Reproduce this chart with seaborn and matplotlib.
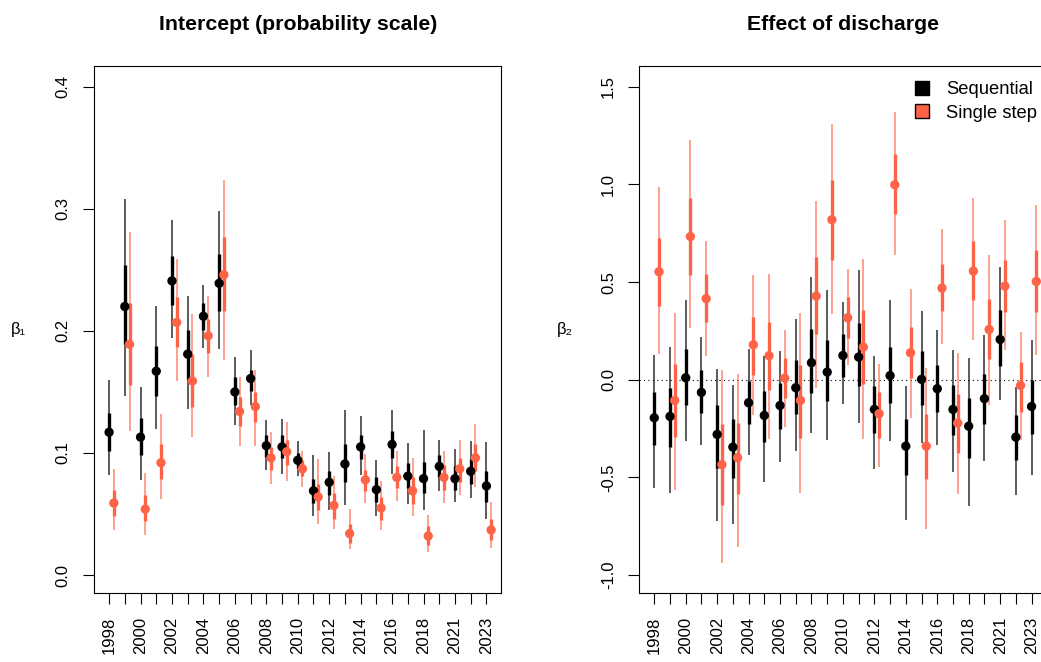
import numpy as np
import pandas as pd
import matplotlib
matplotlib.use("Agg")
import matplotlib.pyplot as plt
from matplotlib.patches import Patch
from matplotlib.ticker import FixedLocator, FixedFormatter
import seaborn as sns

# anos (2020 ausente)
years = [str(y) for y in range(1998, 2020)] + ["2021", "2022", "2023"]
methods = ["Sequential", "Single step"]

# intercepto (escala de probabilidade) - sequencial
int_seq_est = [0.117, 0.220, 0.113, 0.167, 0.241, 0.181, 0.212, 0.239, 0.150, 0.161, 0.106, 0.105, 0.094,
               0.069, 0.076, 0.091, 0.105, 0.070, 0.107, 0.081, 0.079, 0.089, 0.079, 0.085, 0.073]
int_seq_lo50 = [0.102, 0.189, 0.098, 0.147, 0.221, 0.161, 0.201, 0.216, 0.139, 0.151, 0.097, 0.096, 0.088,
                0.059, 0.066, 0.076, 0.095, 0.060, 0.096, 0.071, 0.067, 0.080, 0.070, 0.075, 0.060]
int_seq_hi50 = [0.133, 0.254, 0.129, 0.188, 0.261, 0.201, 0.223, 0.263, 0.162, 0.168, 0.115, 0.115, 0.100,
                0.079, 0.085, 0.107, 0.115, 0.080, 0.118, 0.092, 0.093, 0.098, 0.089, 0.095, 0.085]
int_seq_lo95 = [0.082, 0.147, 0.078, 0.120, 0.194, 0.136, 0.186, 0.185, 0.123, 0.139, 0.086, 0.083, 0.081,
                0.048, 0.053, 0.057, 0.082, 0.048, 0.083, 0.058, 0.053, 0.069, 0.060, 0.063, 0.046]
int_seq_hi95 = [0.160, 0.308, 0.154, 0.220, 0.291, 0.229, 0.238, 0.298, 0.179, 0.184, 0.127, 0.128, 0.110,
                0.098, 0.101, 0.135, 0.130, 0.094, 0.135, 0.108, 0.119, 0.111, 0.103, 0.110, 0.109]

# intercepto - passo único
int_ss_est = [0.059, 0.189, 0.054, 0.092, 0.207, 0.159, 0.196, 0.246, 0.134, 0.138, 0.096, 0.101, 0.087,
              0.064, 0.057, 0.034, 0.078, 0.055, 0.080, 0.069, 0.032, 0.080, 0.087, 0.096, 0.037]
int_ss_lo50 = [0.048, 0.156, 0.044, 0.079, 0.187, 0.138, 0.182, 0.216, 0.122, 0.125, 0.086, 0.090, 0.081,
               0.053, 0.046, 0.026, 0.069, 0.045, 0.071, 0.058, 0.025, 0.070, 0.076, 0.085, 0.029]
int_ss_hi50 = [0.070, 0.223, 0.066, 0.107, 0.228, 0.181, 0.210, 0.277, 0.146, 0.150, 0.105, 0.111, 0.094,
               0.075, 0.067, 0.042, 0.086, 0.064, 0.089, 0.080, 0.040, 0.090, 0.096, 0.107, 0.046]
int_ss_lo95 = [0.037, 0.118, 0.033, 0.062, 0.159, 0.113, 0.162, 0.176, 0.106, 0.106, 0.075, 0.077, 0.072,
               0.042, 0.038, 0.021, 0.059, 0.037, 0.061, 0.048, 0.019, 0.059, 0.066, 0.072, 0.022]
int_ss_hi95 = [0.087, 0.281, 0.084, 0.132, 0.259, 0.214, 0.229, 0.324, 0.162, 0.168, 0.117, 0.125, 0.102,
               0.095, 0.081, 0.054, 0.099, 0.077, 0.102, 0.096, 0.049, 0.102, 0.111, 0.124, 0.060]

# efeito da vazão - sequencial
dis_seq_est = [-0.195, -0.188, 0.010, -0.065, -0.280, -0.345, -0.118, -0.183, -0.132, -0.041, 0.087, 0.039, 0.124,
               0.116, -0.152, 0.021, -0.340, 0.002, -0.046, -0.152, -0.238, -0.097, 0.206, -0.294, -0.137]
dis_seq_lo50 = [-0.336, -0.345, -0.128, -0.171, -0.452, -0.502, -0.229, -0.319, -0.251, -0.174, -0.069, -0.111, 0.013,
                -0.033, -0.273, -0.120, -0.490, -0.128, -0.166, -0.282, -0.401, -0.225, 0.068, -0.413, -0.276]
dis_seq_hi50 = [-0.065, -0.043, 0.159, 0.048, -0.131, -0.203, -0.007, -0.060, -0.017, 0.099, 0.258, 0.201, 0.235,
                0.290, -0.034, 0.167, -0.200, 0.145, 0.073, -0.026, -0.094, 0.031, 0.355, -0.183, -0.004]
dis_seq_lo95 = [-0.553, -0.580, -0.314, -0.336, -0.725, -0.741, -0.387, -0.524, -0.422, -0.367, -0.271, -0.311, -0.126,
                -0.220, -0.456, -0.314, -0.720, -0.324, -0.336, -0.473, -0.647, -0.418, -0.102, -0.592, -0.490]
dis_seq_hi95 = [0.124, 0.167, 0.406, 0.218, 0.056, -0.028, 0.159, 0.119, 0.146, 0.312, 0.525, 0.457, 0.396,
                0.563, 0.119, 0.406, -0.034, 0.351, 0.252, 0.154, 0.111, 0.227, 0.576, -0.038, 0.205]

# efeito da vazão - passo único
dis_ss_est = [0.553, -0.106, 0.733, 0.415, -0.435, -0.399, 0.179, 0.123, 0.008, -0.106, 0.428, 0.819, 0.317,
              0.167, -0.174, 0.998, 0.138, -0.340, 0.469, -0.222, 0.556, 0.257, 0.479, -0.029, 0.503]
dis_ss_lo50 = [0.375, -0.294, 0.534, 0.293, -0.643, -0.583, 0.026, -0.055, -0.094, -0.299, 0.235, 0.614, 0.213,
               -0.024, -0.297, 0.846, 0.008, -0.510, 0.351, -0.374, 0.406, 0.104, 0.346, -0.166, 0.346]
dis_ss_hi50 = [0.727, 0.082, 0.931, 0.539, -0.225, -0.222, 0.320, 0.295, 0.113, 0.077, 0.627, 1.020, 0.423,
               0.358, -0.063, 1.153, 0.269, -0.174, 0.594, -0.072, 0.708, 0.411, 0.614, 0.090, 0.662]
dis_ss_lo95 = [0.133, -0.563, 0.264, 0.121, -0.939, -0.857, -0.179, -0.302, -0.243, -0.578, -0.041, 0.338, 0.073,
               -0.302, -0.447, 0.641, -0.195, -0.763, 0.184, -0.587, 0.205, -0.128, 0.154, -0.307, 0.124]
dis_ss_hi95 = [0.986, 0.344, 1.228, 0.709, 0.048, 0.027, 0.537, 0.543, 0.256, 0.344, 0.913, 1.310, 0.565,
               0.619, 0.082, 1.370, 0.466, 0.061, 0.773, 0.136, 0.929, 0.640, 0.819, 0.244, 0.892]

RED = "#FF6347"
cores = {"Sequential": "black", "Single step": RED}
deslocamento = {"Sequential": 0.0, "Single step": 0.3}


def montar_df(seq, ss):
    partes = []
    for metodo, vals in zip(methods, [seq, ss]):
        est, lo50, hi50, lo95, hi95 = vals
        partes.append(pd.DataFrame({
            "ano": years, "metodo": metodo,
            "pos": np.arange(len(years)) + deslocamento[metodo],
            "est": est, "lo50": lo50, "hi50": hi50, "lo95": lo95, "hi95": hi95,
        }))
    return pd.concat(partes, ignore_index=True)


df_int = montar_df((int_seq_est, int_seq_lo50, int_seq_hi50, int_seq_lo95, int_seq_hi95),
                   (int_ss_est, int_ss_lo50, int_ss_hi50, int_ss_lo95, int_ss_hi95))
df_dis = montar_df((dis_seq_est, dis_seq_lo50, dis_seq_hi50, dis_seq_lo95, dis_seq_hi95),
                   (dis_ss_est, dis_ss_lo50, dis_ss_hi50, dis_ss_lo95, dis_ss_hi95))

sns.set_style("ticks")
plt.rcParams["font.family"] = ["Liberation Sans", "DejaVu Sans"]
plt.rcParams["axes.linewidth"] = 0.8
for chave in ["text.color", "axes.labelcolor", "xtick.color", "ytick.color", "axes.edgecolor"]:
    plt.rcParams[chave] = "black"

fig = plt.figure(figsize=(10.41, 6.62), dpi=100)
ax1 = fig.add_axes([0.0906, 0.1042, 0.3910, 0.7961])
ax2 = fig.add_axes([0.6143, 0.1042, 0.3910, 0.7961])


def desenhar(ax, df, ylim, yticks, titulo, ylab):
    for metodo in methods:
        sub = df[df["metodo"] == metodo]
        alpha_fino = 0.75 if metodo == "Sequential" else 0.7
        ax.vlines(sub["pos"], sub["lo95"], sub["hi95"], color=cores[metodo], lw=1.2, alpha=alpha_fino, zorder=2)
        ax.vlines(sub["pos"], sub["lo50"], sub["hi50"], color=cores[metodo], lw=2.4, zorder=3)
    sns.scatterplot(data=df, x="pos", y="est", hue="metodo", palette=cores, s=45,
                    edgecolor="none", legend=False, ax=ax, zorder=4)
    ax.set_xlim(-0.94, 24.95)
    ax.set_ylim(*ylim)
    ax.xaxis.set_major_locator(FixedLocator(np.arange(len(years))))
    rotulos = [a if (i % 2 == 0) else "" for i, a in enumerate(years)]
    ax.xaxis.set_major_formatter(FixedFormatter(rotulos))
    ax.set_yticks(yticks)
    ax.set_yticklabels([f"{v:.1f}" for v in yticks], rotation=90, va="center")
    ax.tick_params(axis="x", length=8, width=0.8, pad=9, labelsize=12, labelrotation=90)
    ax.tick_params(axis="y", length=8, width=0.8, pad=9, labelsize=12)
    ax.set_xlabel("")
    ax.set_ylabel(ylab, rotation=0, fontsize=12, va="center", ha="center")
    ax.yaxis.set_label_coords(-0.187, 0.5)
    ax.set_title(titulo, fontsize=15.3, fontweight="bold", pad=26)


desenhar(ax1, df_int, (-0.0147, 0.417), [0.0, 0.1, 0.2, 0.3, 0.4],
         "Intercept (probability scale)", "β₁")
desenhar(ax2, df_dis, (-1.092, 1.606), [-1.0, -0.5, 0.0, 0.5, 1.0, 1.5],
         "Effect of discharge", "β₂")
ax2.yaxis.set_label_coords(-0.183, 0.5)
ax2.axhline(0, color="black", lw=0.8, ls=(0, (1, 3)), zorder=1)

handles = [Patch(facecolor="black", edgecolor="black", label="Sequential"),
           Patch(facecolor=RED, edgecolor="black", label="Single step")]
ax2.legend(handles=handles, loc="upper right", frameon=False, fontsize=13.2,
           handlelength=0.77, handleheight=0.77, handletextpad=0.93, labelspacing=0.35,
           bbox_to_anchor=(1039 / 1041, (662 - 79) / 662), bbox_transform=fig.transFigure,
           borderaxespad=0.0, borderpad=0.1)

fig.savefig("out.png", dpi=100)
